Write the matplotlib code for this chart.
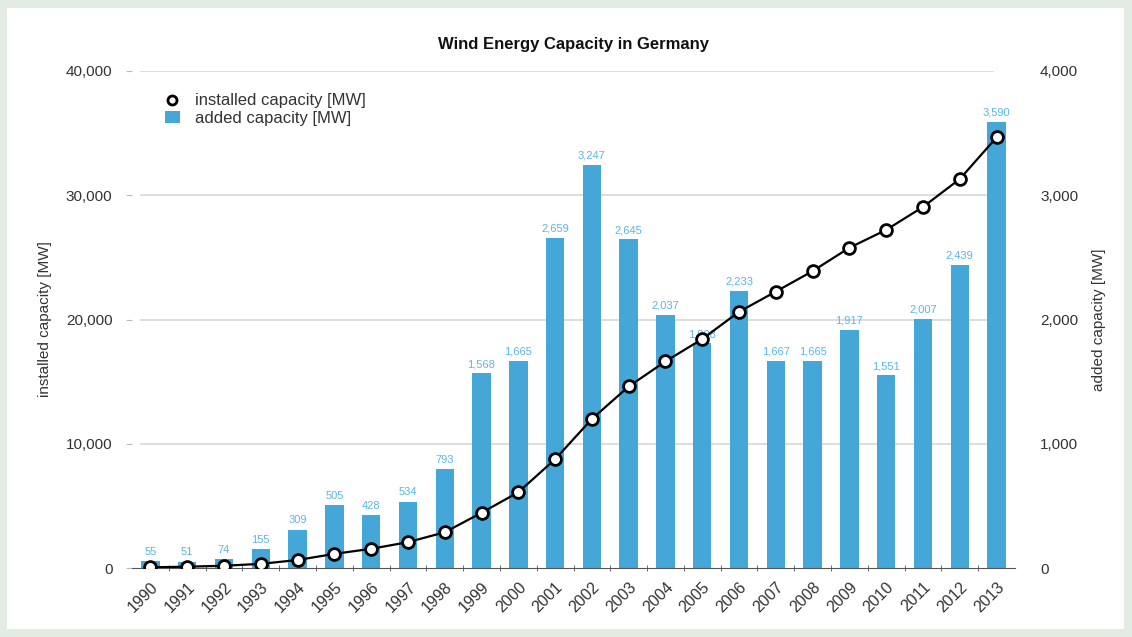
import matplotlib.pyplot as plt
from matplotlib.lines import Line2D
from matplotlib.patches import Rectangle
from matplotlib.ticker import FuncFormatter

# data
years = list(range(1990, 2014))
added_mw = [55, 51, 74, 155, 309, 505, 428, 534, 793, 1568, 1665, 2659,
            3247, 2645, 2037, 1808, 2233, 1667, 1665, 1917, 1551, 2007,
            2439, 3590]
installed_mw = [55, 106, 180, 335, 643, 1137, 1545, 2080, 2875, 4444, 6097,
                8754, 11994, 14609, 16629, 18428, 20622, 22247, 23897, 25777,
                27214, 29060, 31308, 34660]

plt.rcParams['font.family'] = ['Liberation Sans', 'DejaVu Sans']

bar_color = '#44a7d8'
label_color = '#5cb6e4'
text_color = '#333333'

fig = plt.figure(figsize=(11.32, 6.37), dpi=100)
fig.patch.set_facecolor('#e3ece3')
# white panel inside the greenish frame
fig.patches.append(Rectangle((7 / 1132, 8 / 637), 1117 / 1132, 621 / 637,
                             transform=fig.transFigure, facecolor='white',
                             edgecolor='none', zorder=-5))

ax1 = fig.add_axes([132 / 1132, 69 / 637, 883 / 1132, 497 / 637])
ax2 = ax1.twinx()

# added capacity bars on the right axis
bars = ax2.bar(years, added_mw, width=0.5, color=bar_color, zorder=2)
ax2.bar_label(bars, labels=[f'{v:,}' for v in added_mw], padding=3,
              fontsize=8, color=label_color)
ax2.set_ylim(0, 4000)
ax2.set_yticks([0, 1000, 2000, 3000, 4000])
ax2.yaxis.set_major_formatter(FuncFormatter(lambda v, p: f'{int(v):,}'))
for y in [1000, 2000, 3000, 4000]:
    ax2.axhline(y, xmin=0.01, xmax=0.975, color='#dadada', lw=1.3,
                zorder=1)

# installed capacity line on the left axis
line, = ax1.plot(years, installed_mw, color='black', lw=1.6, marker='o',
                 markersize=8.5, markerfacecolor='white',
                 markeredgecolor='black', markeredgewidth=2, zorder=3)
ax1.set_ylim(0, 40000)
ax1.set_yticks([0, 10000, 20000, 30000, 40000])
ax1.yaxis.set_major_formatter(FuncFormatter(lambda v, p: f'{int(v):,}'))
ax1.set_xlim(1989.5, 2013.5)
ax2.set_zorder(1)
ax1.set_zorder(2)
ax1.patch.set_visible(False)

ax1.set_xticks(years)
ax1.set_xticklabels([str(y) for y in years], rotation=45, ha='right',
                    rotation_mode='anchor', fontsize=11.5, color=text_color)
ax1.set_xticks([y + 0.5 for y in years[:-1]], minor=True)
ax1.tick_params(axis='x', which='major', length=0, pad=8)
ax1.tick_params(axis='x', which='minor', length=5, direction='inout',
                color='#555555')

for ax in (ax1, ax2):
    for side in ('top', 'left', 'right'):
        ax.spines[side].set_visible(False)
    ax.spines['bottom'].set_color('#555555')
ax2.spines['bottom'].set_visible(False)

ax1.tick_params(axis='y', length=4, color='#bbbbbb', labelsize=11,
                labelcolor=text_color, pad=10)
ax2.tick_params(axis='y', length=0, labelsize=11, labelcolor=text_color,
                pad=18)

ax1.set_ylabel('installed capacity [MW]', fontsize=11, color=text_color,
               labelpad=10)
ax2.set_ylabel('added capacity [MW]', fontsize=11, color=text_color,
               labelpad=10)

ax1.set_title('Wind Energy Capacity in Germany', fontsize=12,
              fontweight='bold', color='#111111', pad=16)

installed_handle = Line2D([], [], linestyle='none', marker='o',
                          markersize=6.5, markerfacecolor='white',
                          markeredgecolor='black', markeredgewidth=2)
ax1.legend([installed_handle, bars],
           ['installed capacity [MW]', 'added capacity [MW]'],
           loc='upper left', bbox_to_anchor=(0.02, 0.985), frameon=False,
           fontsize=12, labelcolor=text_color, handlelength=0.9,
           handletextpad=0.9, labelspacing=0.15)

fig.savefig('out.png', dpi=100, facecolor=fig.get_facecolor())
